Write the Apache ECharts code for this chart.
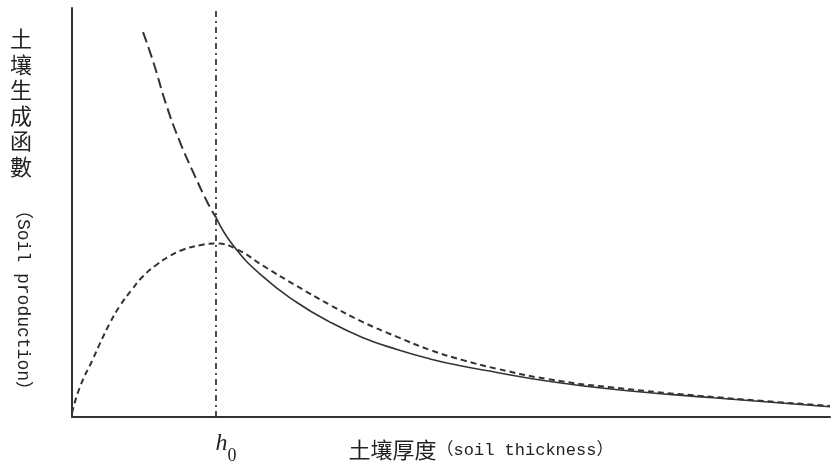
<!DOCTYPE html>
<html>
<head>
<meta charset="utf-8">
<script src="https://cdn.jsdelivr.net/npm/echarts@6/dist/echarts.min.js"></script>
<style>
  html, body { margin: 0; padding: 0; background: #fff; }
  #main { width: 834px; height: 468px; }
</style>
</head>
<body>
<div id="main"></div>
<script>
// critical thickness h0 (x position of the dash-dot line)
var h0 = 19.0;
var tickLabels = ['h0'];

// steep decay branch above h0 (long dashes)
var decayUpperX = [9.37, 10.69, 12.53, 14.25, 15.83, 17.94, 19.0];
var decayUpperY = [9.41, 8.70, 7.58, 6.72, 6.05, 5.22, 4.88];

// decay branch past h0 (solid)
var decayLowerX = [19.0, 21.24, 25.2, 29.68, 34.04, 38.39, 42.88, 47.23, 51.58, 56.07, 62.66, 71.37, 84.56, 100];
var decayLowerY = [4.88, 4.20, 3.43, 2.80, 2.32, 1.94, 1.65, 1.42, 1.24, 1.09, 0.88, 0.68, 0.47, 0.25];

// humped production curve (short dashes)
var humpX = [0, 1.06, 2.77, 3.69, 5.01, 6.33, 7.92, 9.37, 11.21, 12.93, 14.64, 16.89, 19.0,
  21.77, 25.2, 29.68, 34.04, 38.39, 42.88, 47.23, 51.58, 56.07, 62.66, 71.37, 84.56, 100];
var humpY = [0.10, 0.74, 1.42, 1.80, 2.30, 2.72, 3.12, 3.44, 3.73, 3.94, 4.09, 4.20, 4.24,
  4.10, 3.70, 3.20, 2.74, 2.32, 1.96, 1.64, 1.39, 1.18, 0.93, 0.72, 0.49, 0.27];

function pairs(xs, ys) {
  return xs.map(function (x, i) { return [x, ys[i]]; });
}

var chartDom = document.getElementById('main');
var myChart = echarts.init(chartDom);
var option;

var ink = '#222';

option = {
  animation: false,
  backgroundColor: '#fff',
  grid: { left: 72, right: 4, top: 8, bottom: 51, outerBoundsMode: 'none', containLabel: false },
  xAxis: {
    type: 'value',
    min: 0,
    max: 100,
    name: '{c|土壤厚度}{l|（soil thickness）}',
    nameLocation: 'middle',
    nameGap: 22,
    nameMoveOverlap: false,
    nameTextStyle: {
      padding: [0, 0, 0, 60],
      rich: {
        c: { fontFamily: 'Noto Sans CJK TC', fontSize: 22, color: ink },
        l: { fontFamily: 'Liberation Mono, Noto Sans CJK TC', fontSize: 17, color: ink }
      }
    },
    axisLine: { show: true, lineStyle: { color: '#333', width: 2 } },
    axisTick: { show: false },
    splitLine: { show: false },
    axisLabel: {
      customValues: [h0],
      margin: 24,
      padding: [0, 0, 0, 20],
      formatter: function () { return '{h|h}{s|0}'; },
      rich: {
        h: { fontFamily: 'Liberation Serif', fontStyle: 'italic', fontSize: 24, lineHeight: 24,
             padding: [0, 0, 9, 0], verticalAlign: 'bottom', color: ink },
        s: { fontFamily: 'Liberation Serif', fontSize: 18, lineHeight: 18, verticalAlign: 'bottom', color: ink }
      }
    }
  },
  yAxis: {
    type: 'value',
    min: 0,
    max: 10,
    axisLine: { show: true, lineStyle: { color: '#333', width: 2 } },
    axisTick: { show: false },
    axisLabel: { show: false },
    splitLine: { show: false }
  },
  graphic: [
    {
      type: 'text',
      left: 10,
      top: 26,
      style: {
        text: '土\n壤\n生\n成\n函\n數',
        fontFamily: 'Noto Sans CJK TC',
        fontSize: 22,
        lineHeight: 25.5,
        fill: ink
      }
    },
    {
      type: 'text',
      x: 23,
      y: 300,
      rotation: -Math.PI / 2,
      style: {
        text: '（Soil production）',
        fontFamily: 'Liberation Mono, Noto Sans CJK TC',
        fontSize: 18,
        fill: ink,
        align: 'center',
        verticalAlign: 'middle'
      }
    }
  ],
  series: [
    {
      name: 'decay above h0',
      type: 'line',
      data: pairs(decayUpperX, decayUpperY),
      smooth: 0.5,
      showSymbol: false,
      lineStyle: { color: '#333', width: 2, type: [11, 5] }
    },
    {
      name: 'decay past h0',
      type: 'line',
      data: pairs(decayLowerX, decayLowerY),
      smooth: 0.5,
      showSymbol: false,
      lineStyle: { color: '#333', width: 1.6, type: 'solid' },
      markLine: {
        silent: true,
        symbol: 'none',
        label: { show: false },
        lineStyle: { color: ink, width: 1.6, type: [6, 4, 2, 4] },
        data: [{ xAxis: h0 }]
      }
    },
    {
      name: 'hump',
      type: 'line',
      data: pairs(humpX, humpY),
      smooth: 0.5,
      showSymbol: false,
      lineStyle: { color: '#333', width: 2, type: [6, 4] }
    }
  ]
};

option && myChart.setOption(option);
</script>
</body>
</html>
